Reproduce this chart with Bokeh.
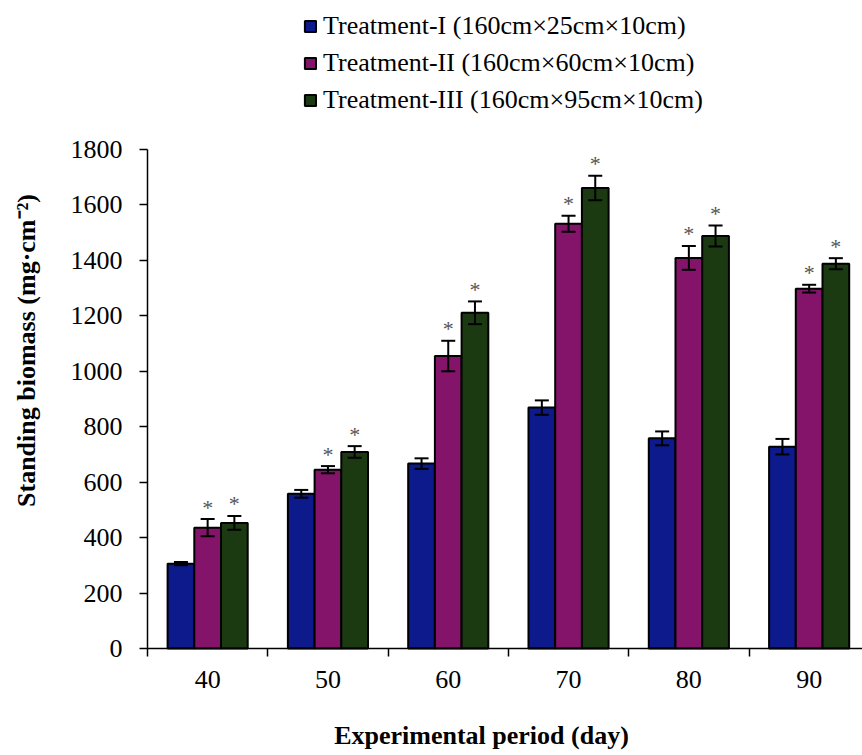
import math
from bokeh.plotting import figure
from bokeh.models import (Range1d, FixedTicker, ColumnDataSource, Whisker, TeeHead,
                          Legend, LegendItem, Label)
from bokeh.core.properties import value
from bokeh.embed import file_html
from bokeh.resources import INLINE

# ---- data ----
days = ["40", "50", "60", "70", "80", "90"]
t1 = [306, 558, 667, 869, 758, 728]
t1_err = [6, 14, 19, 26, 25, 28]
t2 = [436, 645, 1055, 1532, 1409, 1298]
t2_err = [31, 13, 55, 29, 43, 14]
t3 = [453, 709, 1211, 1661, 1488, 1388]
t3_err = [25, 21, 41, 44, 38, 20]
series_names = ["Treatment-I (160cm\u00d725cm\u00d710cm)",
                "Treatment-II (160cm\u00d760cm\u00d710cm)",
                "Treatment-III (160cm\u00d795cm\u00d710cm)"]
significant = [False, True, True]
y_ticks = [0, 200, 400, 600, 800, 1000, 1200, 1400, 1600, 1800]
y_max = 1800

colors = ["#0C1A8C", "#84146A", "#1C3A12"]
FONT = "Liberation Serif"

# ---- geometry (pixels) ----
W, H = 862, 755
AX_LEFT = 147      # pixel x of y-axis
AX_BOTTOM = 648    # pixel y (from top) of x-axis
AX_TOP = 149       # pixel y of y_max
CAT_PX = 120.3     # pixel width of one category
py = (AX_BOTTOM - AX_TOP) / y_max   # pixels per unit

x_start = -AX_LEFT / CAT_PX
x_end = (W - AX_LEFT) / CAT_PX
y_start = -(H - AX_BOTTOM) / py
y_end = AX_BOTTOM / py

p = figure(width=W, height=H, output_backend="svg", toolbar_location=None,
           x_range=Range1d(x_start, x_end), y_range=Range1d(y_start, y_end),
           min_border=0, min_border_left=0, min_border_right=0,
           min_border_top=0, min_border_bottom=0)
p.outline_line_color = None
p.xgrid.visible = False
p.ygrid.visible = False
p.background_fill_color = "white"
p.border_fill_color = "white"

# axes
yax = p.yaxis[0]
yax.fixed_location = 0
yax.bounds = (0, y_max)
yax.ticker = FixedTicker(ticks=y_ticks, minor_ticks=[])
yax.axis_line_color = "black"
yax.axis_line_width = 1.5
yax.major_tick_line_color = "black"
yax.major_tick_line_width = 1.5
yax.major_tick_in = 0
yax.major_tick_out = 8
yax.minor_tick_line_color = None
yax.major_label_text_font = FONT
yax.major_label_text_font_size = "26px"
yax.major_label_text_color = "black"
yax.major_label_standoff = 17

xax = p.xaxis[0]
xax.fixed_location = 0
xax.bounds = (0, len(days) + 1)
centers = [i + 0.5 for i in range(len(days))]
xax.ticker = FixedTicker(ticks=centers, minor_ticks=list(range(len(days) + 1)))
xax.major_label_overrides = {c: d for c, d in zip(centers, days)}
xax.axis_line_color = "black"
xax.axis_line_width = 1.5
xax.major_tick_line_color = None
xax.minor_tick_line_color = "black"
xax.minor_tick_line_width = 1.5
xax.minor_tick_in = 0
xax.minor_tick_out = 8
xax.major_label_text_font = FONT
xax.major_label_text_font_size = "26px"
xax.major_label_text_color = "black"
xax.major_label_standoff = 14

bw = 0.222
offsets = [-bw, 0.0, bw]
vals = [t1, t2, t3]
errs = [t1_err, t2_err, t3_err]
star_gap = 12 / py
items = []
for k in range(3):
    xs = [c + offsets[k] for c in centers]
    src = ColumnDataSource(dict(x=xs, top=vals[k],
                                upper=[v + e for v, e in zip(vals[k], errs[k])],
                                lower=[v - e for v, e in zip(vals[k], errs[k])]))
    r = p.vbar(x="x", top="top", width=bw, bottom=0, source=src,
               fill_color=colors[k], line_color="black", line_width=2)
    items.append(LegendItem(label=series_names[k], renderers=[r]))
    w = Whisker(base="x", upper="upper", lower="lower", source=src,
                line_color="black", line_width=2, level="overlay",
                upper_head=TeeHead(size=14, line_width=2, line_color="black"),
                lower_head=TeeHead(size=14, line_width=2, line_color="black"))
    p.add_layout(w)
    if significant[k]:
        ssrc = ColumnDataSource(dict(x=xs, y=[v + e + star_gap for v, e in zip(vals[k], errs[k])],
                                     t=["*"] * len(xs)))
        p.text(x="x", y="y", text="t", source=ssrc, text_align="center",
               text_baseline="middle", text_font=value(FONT),
               text_font_size="22px", text_color="#555555")

legend = Legend(items=items, location=(303, H - 115))
legend.label_text_font = FONT
legend.label_text_font_size = "26px"
legend.label_text_color = "black"
legend.glyph_width = 14
legend.glyph_height = 14
legend.label_standoff = 6
legend.label_height = 26
legend.spacing = 7
legend.padding = 0
legend.margin = 0
legend.border_line_color = None
legend.background_fill_alpha = 0
p.add_layout(legend, "center")

# axis titles
ylab = Label(x=(26 - AX_LEFT) / CAT_PX, y=(AX_BOTTOM - 350) / py,
             text="Standing biomass (mg\u00b7cm\u207b\u00b2)",
             angle=math.pi / 2, text_align="center", text_baseline="middle",
             text_font=FONT, text_font_size="26px", text_font_style="bold",
             text_color="black")
p.add_layout(ylab)
xlab = Label(x=(481 - AX_LEFT) / CAT_PX, y=(AX_BOTTOM - 735) / py,
             text="Experimental period (day)",
             text_align="center", text_baseline="middle",
             text_font=FONT, text_font_size="26px", text_font_style="bold",
             text_color="black")
p.add_layout(xlab)

open("out.html", "w").write(file_html(p, INLINE))
